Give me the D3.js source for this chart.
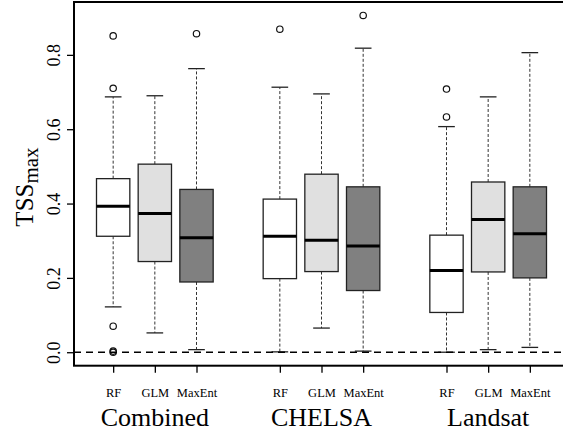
<!DOCTYPE html>
<html>
<head>
<meta charset="utf-8">
<script src="https://cdn.jsdelivr.net/npm/d3@7"></script>
<style>
  body { margin: 0; background: #fff; }
  svg text { font-family: "Liberation Serif", "Times New Roman", Times, serif; fill: #000; }
</style>
</head>
<body>
<script>
// data
var groups = ['Combined', 'CHELSA', 'Landsat'];
var models = ['RF', 'GLM', 'MaxEnt'];
var fills = ['#ffffff', '#e0e0e0', '#808080'];
var positions = [1, 2, 3, 5, 6, 7, 9, 10, 11];
var groupCenters = [2, 6, 10];
var yTicks = [0, 0.2, 0.4, 0.6, 0.8];

var whiskerLow  = [0.122, 0.052, 0.007, 0.001, 0.065, 0.003, 0.000, 0.007, 0.013];
var q1          = [0.312, 0.244, 0.189, 0.198, 0.217, 0.166, 0.107, 0.216, 0.200];
var median      = [0.393, 0.373, 0.308, 0.312, 0.301, 0.286, 0.220, 0.357, 0.319];
var q3          = [0.467, 0.506, 0.438, 0.412, 0.479, 0.445, 0.315, 0.458, 0.445];
var whiskerHigh = [0.687, 0.690, 0.763, 0.713, 0.695, 0.818, 0.607, 0.687, 0.806];
var outliers = [
  [0.851, 0.710, 0.070, 0.003, 0.000],
  [],
  [0.857],
  [0.869],
  [],
  [0.906],
  [0.708, 0.633],
  [],
  []
];

(function () {
var width = 563, height = 436;
var mLeft = 74, mTop = 2, mRight = 569, mBottom = 365.7;
var serif = 'Liberation Serif, Times New Roman, Times, serif';

// R style ranges: 4% padding around data range
var ylim = [0, 0.906];
var ypad = (ylim[1] - ylim[0]) * 0.04;
var xlim = [0.5, 11.5];
var xpad = (xlim[1] - xlim[0]) * 0.04;

var x = d3.scaleLinear().domain([xlim[0] - xpad, xlim[1] + xpad]).range([mLeft, mRight]);
var y = d3.scaleLinear().domain([ylim[0] - ypad, ylim[1] + ypad]).range([mBottom, mTop]);

var svg = d3.select('body').append('svg')
  .attr('width', width)
  .attr('height', height)
  .attr('font-family', serif);

var boxes = positions.map(function (p, i) {
  return {
    pos: p, lo: whiskerLow[i], q1: q1[i], med: median[i], q3: q3[i], hi: whiskerHigh[i],
    out: outliers[i], fill: fills[i % 3]
  };
});

var boxW = x(0.8) - x(0);
var capW = boxW / 2;

var g = svg.selectAll('g.box')
  .data(boxes)
  .enter().append('g')
  .attr('class', 'box');

// whiskers
g.append('line')
  .attr('x1', function (d) { return x(d.pos); })
  .attr('x2', function (d) { return x(d.pos); })
  .attr('y1', function (d) { return y(d.q3); })
  .attr('y2', function (d) { return y(d.hi); })
  .attr('stroke', '#333').attr('stroke-dasharray', '3,2');
g.append('line')
  .attr('x1', function (d) { return x(d.pos); })
  .attr('x2', function (d) { return x(d.pos); })
  .attr('y1', function (d) { return y(d.q1); })
  .attr('y2', function (d) { return y(d.lo); })
  .attr('stroke', '#333').attr('stroke-dasharray', '3,2');

// caps
['hi', 'lo'].forEach(function (k) {
  g.append('line')
    .attr('x1', function (d) { return x(d.pos) - capW / 2; })
    .attr('x2', function (d) { return x(d.pos) + capW / 2; })
    .attr('y1', function (d) { return y(d[k]); })
    .attr('y2', function (d) { return y(d[k]); })
    .attr('stroke', '#222').attr('stroke-width', 1.3);
});

// box
g.append('rect')
  .attr('x', function (d) { return x(d.pos) - boxW / 2; })
  .attr('y', function (d) { return y(d.q3); })
  .attr('width', boxW)
  .attr('height', function (d) { return y(d.q1) - y(d.q3); })
  .attr('fill', function (d) { return d.fill; })
  .attr('stroke', '#222').attr('stroke-width', 1.3);

// median
g.append('line')
  .attr('x1', function (d) { return x(d.pos) - boxW / 2; })
  .attr('x2', function (d) { return x(d.pos) + boxW / 2; })
  .attr('y1', function (d) { return y(d.med); })
  .attr('y2', function (d) { return y(d.med); })
  .attr('stroke', '#000').attr('stroke-width', 3);

// outliers
g.selectAll('circle')
  .data(function (d) { return d.out.map(function (v) { return {pos: d.pos, v: v}; }); })
  .enter().append('circle')
  .attr('cx', function (d) { return x(d.pos); })
  .attr('cy', function (d) { return y(d.v); })
  .attr('r', 3.2)
  .attr('fill', 'none')
  .attr('stroke', '#111').attr('stroke-width', 1.2);

// dashed zero line
svg.append('line')
  .attr('x1', mLeft).attr('x2', mRight)
  .attr('y1', y(0)).attr('y2', y(0))
  .attr('stroke', '#000').attr('stroke-width', 1.6)
  .attr('stroke-dasharray', '7,5');

// plot frame
svg.append('rect')
  .attr('x', mLeft).attr('y', mTop)
  .attr('width', mRight - mLeft).attr('height', mBottom - mTop)
  .attr('fill', 'none').attr('stroke', '#000').attr('stroke-width', 2);

// y axis
var yAxis = svg.append('g')
  .attr('transform', 'translate(' + mLeft + ',0)')
  .call(d3.axisLeft(y).tickValues(yTicks).tickSize(7).tickFormat(d3.format('.1f')));
yAxis.attr('font-family', serif).attr('font-size', 18);
yAxis.select('.domain').remove();
yAxis.selectAll('line').attr('stroke', '#000').attr('stroke-width', 1.3);
yAxis.selectAll('text')
  .attr('x', 0).attr('dy', 0)
  .attr('text-anchor', 'middle')
  .attr('transform', 'translate(-14,0) rotate(-90)');

// x axis
var xAxis = svg.append('g')
  .attr('transform', 'translate(0,' + mBottom + ')')
  .call(d3.axisBottom(x).tickValues(positions).tickSize(7)
    .tickFormat(function (d, i) { return models[i % 3]; }));
xAxis.attr('font-family', serif).attr('font-size', 12.5);
xAxis.select('.domain').remove();
xAxis.selectAll('line').attr('stroke', '#000').attr('stroke-width', 1.3);
xAxis.selectAll('text')
  .attr('y', 31).attr('dy', 0);

// group labels
svg.selectAll('text.group')
  .data(groups)
  .enter().append('text')
  .attr('class', 'group')
  .attr('x', function (d, i) { return x(groupCenters[i]); })
  .attr('y', 426)
  .attr('text-anchor', 'middle')
  .attr('font-size', 26)
  .text(function (d) { return d; });

// y title TSS_max
var yt = svg.append('text')
  .attr('transform', 'translate(33,187) rotate(-90)')
  .attr('text-anchor', 'middle')
  .attr('font-size', 25);
yt.append('tspan').text('TSS');
yt.append('tspan').attr('dy', 5).attr('font-size', 21).text('max');
})();
</script>
</body>
</html>
